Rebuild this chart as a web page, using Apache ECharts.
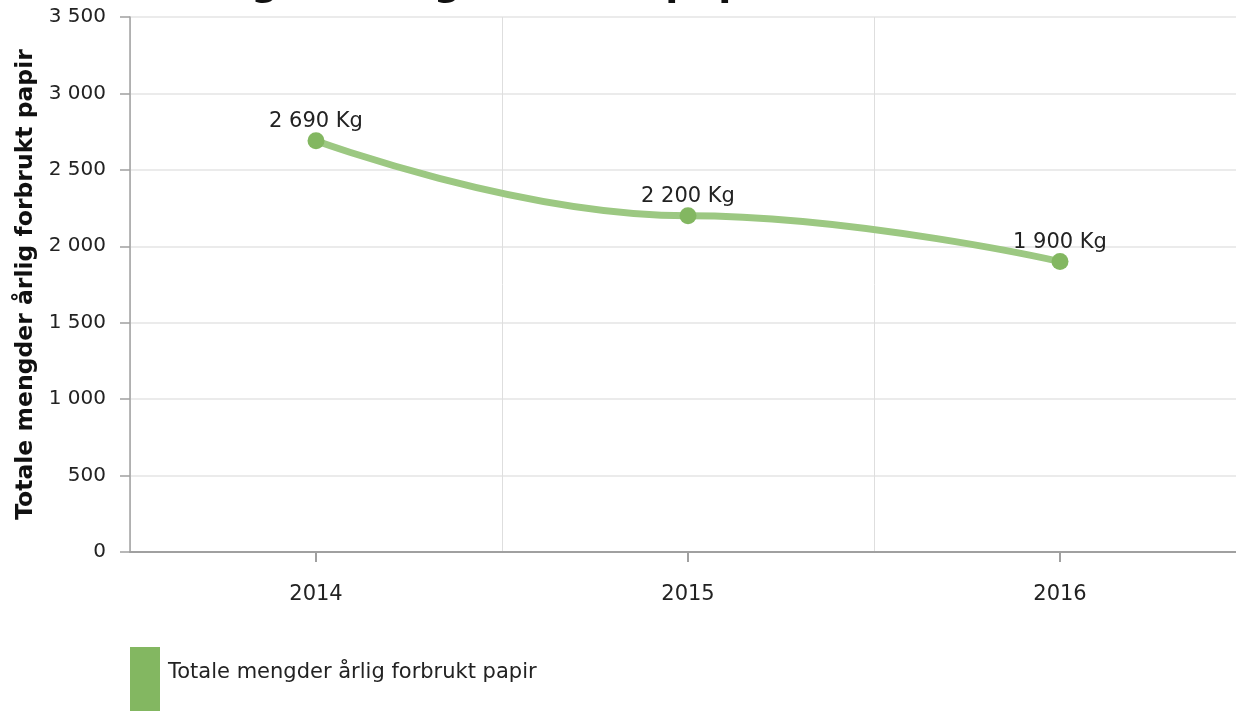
<!DOCTYPE html>
<html>
<head>
<meta charset="utf-8">
<script src="https://cdn.jsdelivr.net/npm/echarts@6/dist/echarts.min.js"></script>
<style>
html,body{margin:0;padding:0;background:#fff;}
#chart{width:1236px;height:711px;}
</style>
</head>
<body>
<div id="chart"></div>
<script>
const titleText = 'Totale mengder årlig forbrukt papir';
const seriesName = 'Totale mengder årlig forbrukt papir';
const yAxisName = 'Totale mengder årlig forbrukt papir';
const categories = ['2014', '2015', '2016'];
const values = [2690, 2200, 1900];
const unit = 'Kg';

function fmt(v) {
  return String(v).replace(/\B(?=(\d{3})+(?!\d))/g, ' ');
}

const font = 'DejaVu Sans, Verdana, sans-serif';
const chart = echarts.init(document.getElementById('chart'), null, {renderer: 'canvas'});
chart.setOption({
  backgroundColor: '#ffffff',
  animation: false,
  title: {
    text: titleText,
    left: 16,
    top: -34,
    padding: 0,
    textStyle: {fontFamily: font, fontSize: 38, fontWeight: 'bold', color: '#111'}
  },
  grid: {left: 130, width: 1116, top: 17, bottom: 159, containLabel: false, outerBoundsMode: 'none'},
  legend: {
    left: 130,
    top: 647,
    padding: 0,
    itemWidth: 30,
    itemHeight: 64,
    icon: 'rect',
    formatter: '{t|{name}}',
    textStyle: {
      fontFamily: font, fontSize: 21, color: '#222',
      rich: {t: {fontFamily: font, fontSize: 21, color: '#222', padding: [0, 0, 13, 3]}}
    },
    data: [seriesName]
  },
  xAxis: {
    type: 'category',
    data: categories,
    boundaryGap: true,
    axisLine: {show: true, lineStyle: {color: '#a0a0a0', width: 2}},
    axisTick: {show: true, alignWithLabel: true, length: 10, lineStyle: {color: '#a0a0a0', width: 2}},
    axisLabel: {fontFamily: font, fontSize: 21, color: '#222', margin: 32},
    splitLine: {show: true, lineStyle: {color: '#dedede', width: 1}}
  },
  yAxis: {
    type: 'value',
    min: 0,
    max: 3500,
    interval: 500,
    name: yAxisName,
    nameLocation: 'middle',
    nameGap: 86,
    nameTextStyle: {fontFamily: font, fontSize: 23.5, fontWeight: 'bold', color: '#111'},
    axisLine: {show: true, lineStyle: {color: '#a0a0a0', width: 1.5}},
    axisTick: {show: true, length: 10, lineStyle: {color: '#a0a0a0', width: 1.5}},
    axisLabel: {fontFamily: font, fontSize: 20, color: '#222', margin: 24, formatter: v => fmt(v)},
    splitLine: {show: true, lineStyle: {color: '#e4e4e4', width: 1.5}}
  },
  series: [{
    name: seriesName,
    type: 'line',
    data: values,
    smooth: 0.45,
    smoothMonotone: 'x',
    symbol: 'circle',
    symbolSize: 17,
    lineStyle: {color: '#9cc882', width: 7},
    itemStyle: {color: '#83b761'},
    label: {
      show: true,
      position: 'top',
      distance: 0,
      fontFamily: font,
      fontSize: 21,
      color: '#222',
      formatter: p => fmt(p.value) + ' ' + unit
    }
  }]
});
</script>
</body>
</html>
